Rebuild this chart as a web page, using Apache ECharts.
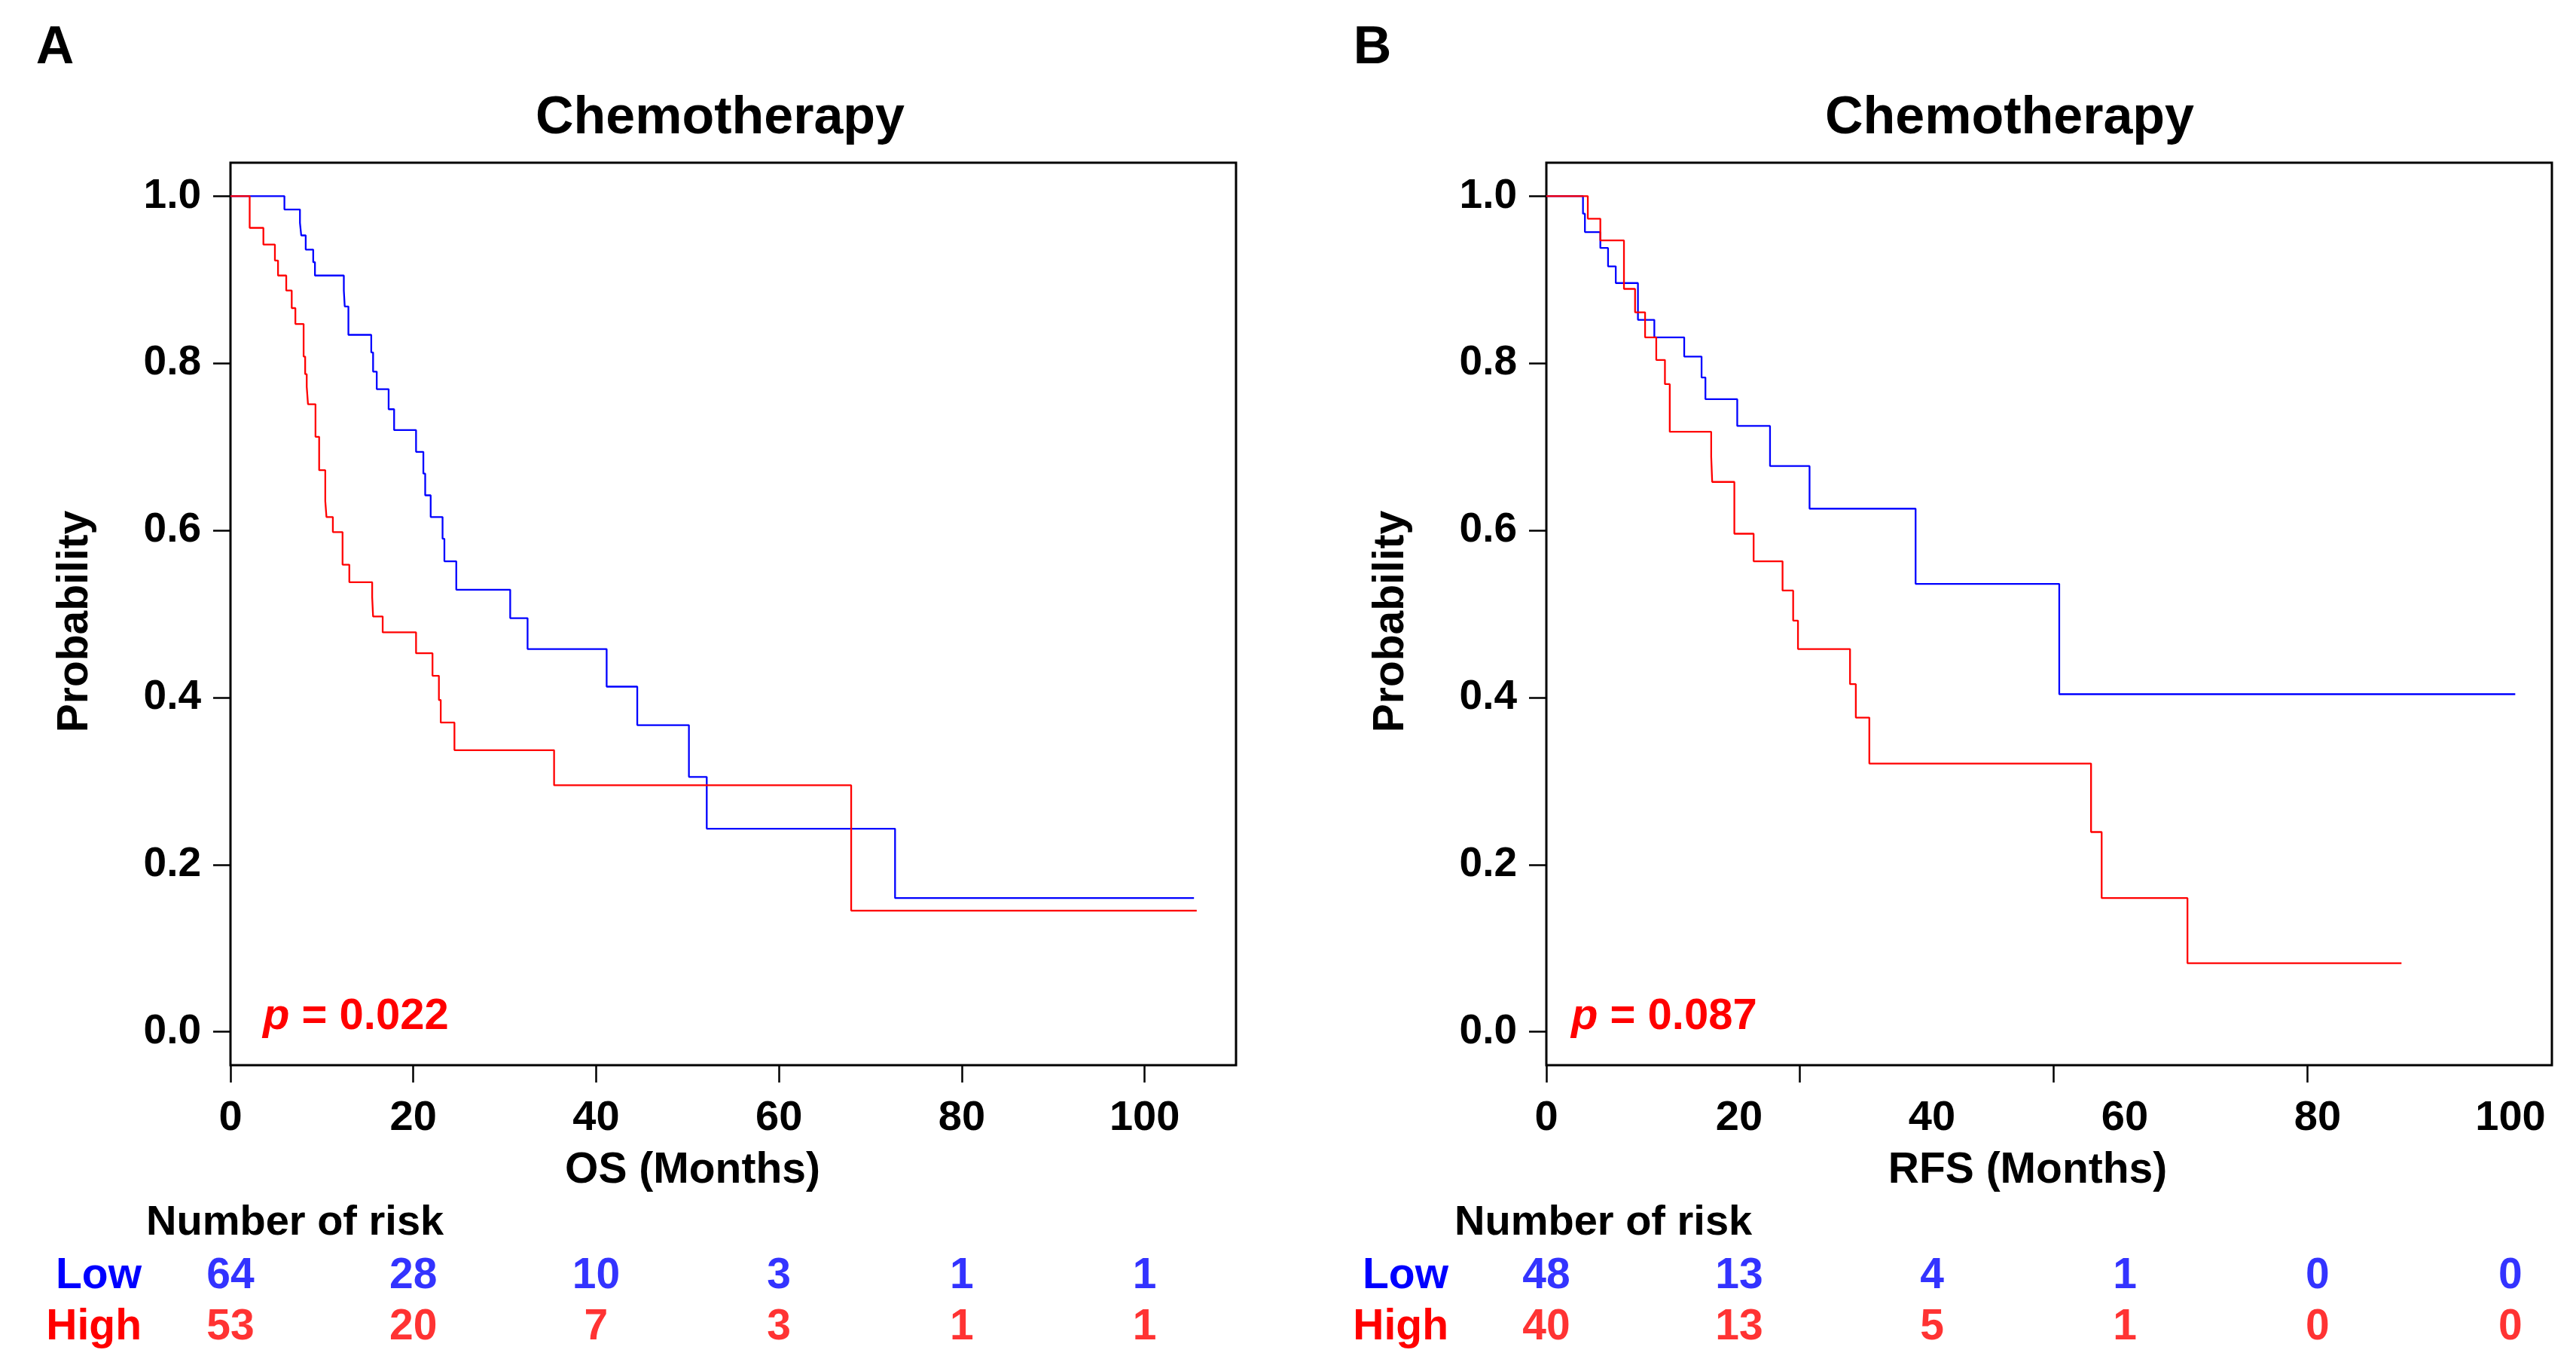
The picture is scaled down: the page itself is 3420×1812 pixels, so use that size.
<!DOCTYPE html>
<html>
<head>
<meta charset="utf-8">
<script src="https://cdn.jsdelivr.net/npm/echarts@6/dist/echarts.min.js"></script>
<style>
html,body{margin:0;padding:0;background:#ffffff;}
#chart{width:3420px;height:1812px;}
</style>
</head>
<body>
<div id="chart"></div>
<script>
// ---------------- data ----------------
const yTickValues = [0, 0.2, 0.4, 0.6, 0.8, 1.0];
const xLabelValuesA = [0, 20, 40, 60, 80, 100];
const xTickValuesA = [0, 20, 40, 60, 80, 100];
const xLabelValuesB = [0, 20, 40, 60, 80, 100];
const xTickValuesB = [0, 26.3, 52.6, 78.9];

const riskTimes = [0, 20, 40, 60, 80, 100];
const riskGroups = ['Low', 'High'];
const riskLowA = [64, 28, 10, 3, 1, 1];
const riskHighA = [53, 20, 7, 3, 1, 1];
const riskLowB = [48, 13, 4, 1, 0, 0];
const riskHighB = [40, 13, 5, 1, 0, 0];

// Panel A (OS) - Low
const timeLowA = [0, 5.9, 7.6, 7.74, 8.23, 9.05, 9.24, 12.4, 12.5, 12.9, 15.4, 15.6, 16.0, 17.3, 17.9, 20.3, 21.1, 21.3, 21.9, 23.2, 23.4, 24.7, 30.6, 32.5, 41.15, 44.5, 50.15, 52.1, 72.7, 105.4];
const survLowA = [1, 0.984, 0.968, 0.953, 0.936, 0.921, 0.905, 0.887, 0.868, 0.834, 0.813, 0.79, 0.769, 0.745, 0.72, 0.694, 0.668, 0.642, 0.616, 0.59, 0.563, 0.529, 0.495, 0.458, 0.413, 0.367, 0.305, 0.243, 0.16, 0.16];
// Panel A (OS) - High
const timeHighA = [0, 2.1, 3.6, 4.86, 5.2, 6.1, 6.7, 7.1, 8.0, 8.17, 8.34, 8.48, 9.3, 9.7, 10.37, 10.5, 11.2, 12.26, 13.0, 15.5, 15.6, 16.65, 20.3, 22.1, 22.8, 23.0, 24.5, 35.4, 67.9, 105.7];
const survHighA = [1, 0.962, 0.942, 0.923, 0.905, 0.887, 0.866, 0.847, 0.808, 0.787, 0.772, 0.751, 0.712, 0.672, 0.635, 0.616, 0.598, 0.559, 0.538, 0.52, 0.497, 0.478, 0.453, 0.426, 0.397, 0.37, 0.337, 0.295, 0.145, 0.145];
// Panel B (RFS) - Low
const timeLowB = [0, 3.8, 4.0, 5.6, 6.4, 7.2, 9.5, 11.2, 14.3, 16.1, 16.5, 19.8, 23.2, 27.3, 38.3, 53.2, 100.5];
const survLowB = [1, 0.979, 0.957, 0.938, 0.916, 0.896, 0.852, 0.831, 0.808, 0.783, 0.757, 0.725, 0.677, 0.626, 0.536, 0.404, 0.404];
// Panel B (RFS) - High
const timeHighB = [0, 4.3, 5.6, 8.05, 9.2, 10.24, 11.4, 12.3, 12.8, 17.1, 17.2, 19.5, 21.5, 24.5, 25.6, 26.1, 31.5, 32.1, 33.5, 56.5, 57.6, 66.5, 88.7];
const survHighB = [1, 0.973, 0.947, 0.889, 0.861, 0.831, 0.804, 0.775, 0.718, 0.688, 0.658, 0.596, 0.563, 0.528, 0.492, 0.458, 0.416, 0.376, 0.321, 0.239, 0.16, 0.082, 0.082];

// ---------------- styling ----------------
const FONT = '"Liberation Sans", Arial, Helvetica, sans-serif';
const BLUE = '#0000FF';
const RED = '#FF0000';
const BLACK = '#000000';

const pairs = (t, s) => t.map((v, i) => [v, s[i]]);

function plotXAxis(gridIndex, max, labels, ticks, name, shift) {
  return {
    type: 'value', gridIndex, min: 0, max,
    axisLine: { show: false, onZero: false },
    splitLine: { show: false },
    axisTick: { show: true, inside: false, length: 23, customValues: ticks,
      lineStyle: { color: BLACK, width: 2.5 } },
    axisLabel: { show: true, customValues: labels, margin: 43,
      fontFamily: FONT, fontWeight: 'bold', fontSize: 56, color: BLACK },
    name, nameLocation: 'middle', nameGap: 112,
    nameTextStyle: { fontFamily: FONT, fontWeight: 'bold', fontSize: 57, color: BLACK,
      padding: [0, shift, 0, 0] }
  };
}
function plotYAxis(gridIndex) {
  return {
    type: 'value', gridIndex, min: -0.04, max: 1.04,
    axisLine: { show: false, onZero: false },
    splitLine: { show: false },
    axisTick: { show: true, inside: false, length: 23, customValues: yTickValues,
      lineStyle: { color: BLACK, width: 2.5 } },
    axisLabel: { show: true, customValues: yTickValues, margin: 39,
      formatter: v => Number(v).toFixed(1),
      fontFamily: FONT, fontWeight: 'bold', fontSize: 55, color: BLACK },
    name: 'Probability', nameLocation: 'middle', nameRotate: 90, nameGap: 177,
    nameTextStyle: { fontFamily: FONT, fontWeight: 'bold', fontSize: 57, color: BLACK,
      padding: [0, 20, 0, 0] }
  };
}
function riskXAxis(gridIndex, max) {
  return { type: 'value', gridIndex, min: 0, max, show: false };
}
function riskYAxis(gridIndex, margin) {
  return {
    type: 'category', gridIndex, data: riskGroups, inverse: true,
    axisLine: { show: false, onZero: false }, axisTick: { show: false }, splitLine: { show: false },
    axisLabel: { margin, interval: 0, hideOverlap: false,
      fontFamily: FONT, fontWeight: 'bold', fontSize: 57,
      color: (v) => (v === 'Low' ? BLUE : RED) }
  };
}
function kmSeries(name, xi, t, s, color) {
  return {
    name, type: 'line', xAxisIndex: xi, yAxisIndex: xi, step: 'end',
    data: pairs(t, s), showSymbol: false, symbol: 'none', clip: true,
    lineStyle: { color, width: 2.3 }, itemStyle: { color }, silent: true
  };
}
function riskSeries(name, xi, group, counts, color) {
  return {
    name, type: 'scatter', xAxisIndex: xi, yAxisIndex: xi,
    data: riskTimes.map((t, i) => [t, group, counts[i]]),
    symbolSize: 1, itemStyle: { color: 'rgba(0,0,0,0)' }, silent: true,
    label: { show: true, position: 'inside', formatter: p => String(p.value[2]),
      fontFamily: FONT, fontWeight: 'bold', fontSize: 57, color }
  };
}
function txt(x, y, text, size, align, color, rich) {
  const st = { text, fill: color || BLACK, font: 'bold ' + size + 'px ' + FONT,
    fontFamily: FONT, fontWeight: 'bold', fontSize: size,
    align: align, textAlign: align, verticalAlign: 'middle', textVerticalAlign: 'middle' };
  if (rich) st.rich = rich;
  return { type: 'text', x, y, silent: true, style: st };
}
const pRich = {
  i: { fontStyle: 'italic', fontWeight: 'bold', fontSize: 58, fontFamily: FONT, fill: RED },
  n: { fontWeight: 'bold', fontSize: 58, fontFamily: FONT, fill: RED }
};

const option = {
  backgroundColor: '#ffffff',
  animation: false,
  grid: [
    { left: 306, top: 216, width: 1335, height: 1198, show: true, borderColor: BLACK, borderWidth: 3, backgroundColor: 'transparent' },
    { left: 2053, top: 216, width: 1335, height: 1198, show: true, borderColor: BLACK, borderWidth: 3, backgroundColor: 'transparent' },
    { left: 306, top: 1660, width: 1335, height: 136 },
    { left: 2053, top: 1660, width: 1335, height: 136 }
  ],
  xAxis: [
    plotXAxis(0, 110, xLabelValuesA, xTickValuesA, 'OS (Months)', 108),
    plotXAxis(1, 104.3, xLabelValuesB, xTickValuesB, 'RFS (Months)', 57),
    riskXAxis(2, 110),
    riskXAxis(3, 104.3)
  ],
  yAxis: [
    plotYAxis(0),
    plotYAxis(1),
    riskYAxis(2, 118),
    riskYAxis(3, 130)
  ],
  series: [
    kmSeries('Low', 0, timeLowA, survLowA, BLUE),
    kmSeries('High', 0, timeHighA, survHighA, RED),
    kmSeries('Low', 1, timeLowB, survLowB, BLUE),
    kmSeries('High', 1, timeHighB, survHighB, RED),
    riskSeries('Low risk', 2, 'Low', riskLowA, BLUE),
    riskSeries('High risk', 2, 'High', riskHighA, RED),
    riskSeries('Low risk', 3, 'Low', riskLowB, BLUE),
    riskSeries('High risk', 3, 'High', riskHighB, RED)
  ],
  graphic: [
    txt(73, 65, 'A', 70, 'center'),
    txt(1822, 65, 'B', 70, 'center'),
    txt(956, 158, 'Chemotherapy', 70, 'center'),
    txt(2668, 158, 'Chemotherapy', 70, 'center'),
    txt(194, 1624, 'Number of risk', 56, 'left'),
    txt(1931, 1624, 'Number of risk', 56, 'left'),
    txt(349, 1350, '{i|p}{n| = 0.022}', 58, 'left', RED, pRich),
    txt(2086, 1350, '{i|p}{n| = 0.087}', 58, 'left', RED, pRich)
  ]
};

const chart = echarts.init(document.getElementById('chart'), null, { renderer: 'canvas', width: 3420, height: 1812 });
chart.setOption(option);
</script>
</body>
</html>
